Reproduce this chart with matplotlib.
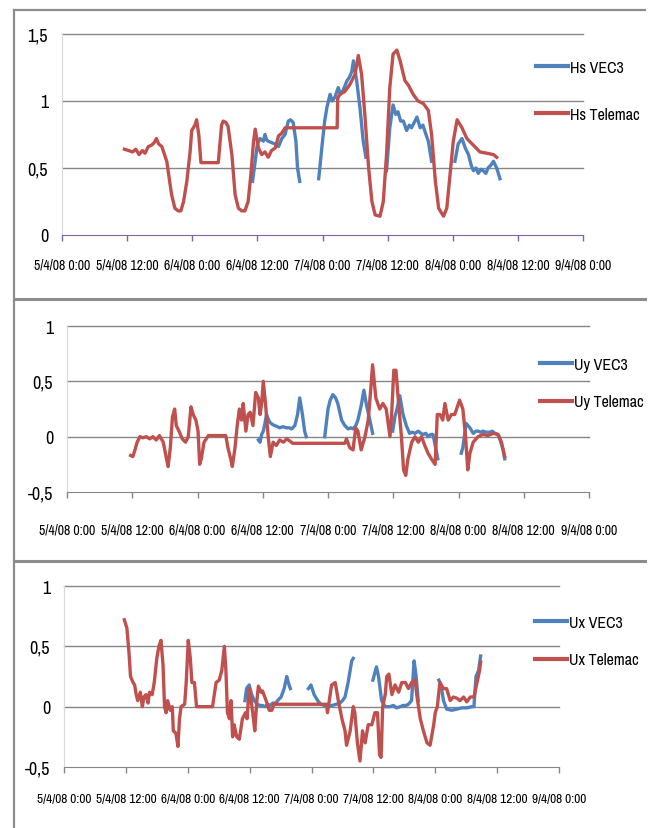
import numpy as np
import matplotlib
matplotlib.use('Agg')
import matplotlib.pyplot as plt
from matplotlib.lines import Line2D

plt.rcParams['font.family'] = ['Archivo Narrow', 'DejaVu Sans']
plt.rcParams['font.stretch'] = 'condensed'

# time axis in hours from 5/4/08 0:00
x_ticks = [0, 12, 24, 36, 48, 60, 72, 84, 96]
x_labels = ['5/4/08 0:00', '5/4/08 12:00', '6/4/08 0:00', '6/4/08 12:00',
            '7/4/08 0:00', '7/4/08 12:00', '8/4/08 0:00', '8/4/08 12:00',
            '9/4/08 0:00']

# ---- Hs ----
hs_tel_t = [11.5, 12.3, 13.0, 13.6, 14.2, 14.8, 15.3, 15.9, 16.5, 17.0,
            17.4, 17.8, 18.4, 19.3, 20.2, 20.8, 21.4, 21.9, 22.4, 23.0,
            23.6, 23.9, 24.5, 24.8, 25.2, 25.6, 28.8, 29.4, 29.7, 30.2,
            30.6, 31.3, 31.9, 32.5, 33.1, 33.7, 34.3, 34.8, 35.3, 35.6,
            36.2, 36.8, 37.4, 38.0, 38.6, 39.3, 39.9, 40.5, 41.1, 50.7,
            50.8, 51.2, 52.1, 53.0, 54.0, 54.6, 55.2, 55.8, 56.5, 57.1,
            57.7, 58.6, 59.2, 59.8, 60.4, 61.0, 61.7, 62.3, 63.2, 63.8,
            64.7, 65.6, 66.6, 67.5, 68.1, 68.8, 69.4, 70.3, 70.9, 71.5,
            72.1, 72.8, 73.7, 74.6, 75.8, 77.0, 78.3, 79.5, 80.1]
hs_tel = [0.64, 0.63, 0.62, 0.64, 0.60, 0.63, 0.61, 0.66, 0.67, 0.69,
          0.72, 0.68, 0.66, 0.55, 0.30, 0.20, 0.18, 0.18, 0.25, 0.40,
          0.62, 0.78, 0.82, 0.86, 0.75, 0.54, 0.54, 0.82, 0.85, 0.84,
          0.81, 0.60, 0.30, 0.20, 0.18, 0.18, 0.25, 0.45, 0.70, 0.79,
          0.65, 0.60, 0.62, 0.58, 0.63, 0.65, 0.74, 0.76, 0.80, 0.80,
          1.02, 1.05, 1.07, 1.12, 1.20, 1.34, 1.20, 0.90, 0.50, 0.25,
          0.15, 0.14, 0.25, 0.60, 1.10, 1.35, 1.38, 1.30, 1.15, 1.12,
          1.05, 1.00, 0.98, 0.93, 0.75, 0.40, 0.20, 0.14, 0.20, 0.45,
          0.70, 0.86, 0.80, 0.72, 0.67, 0.62, 0.61, 0.60, 0.58]

hs_vec_t1 = [35.1, 35.6, 36.0, 36.5, 37.1, 37.4, 37.7, 38.0, 38.6, 39.2,
             39.9, 40.5, 41.1, 41.7, 42.1, 42.6, 43.1, 43.4, 43.8]
hs_vec_1 = [0.40, 0.55, 0.68, 0.72, 0.70, 0.75, 0.71, 0.70, 0.69, 0.68,
            0.66, 0.72, 0.75, 0.85, 0.86, 0.84, 0.70, 0.50, 0.40]
hs_vec_t2 = [47.3, 48.0, 48.4, 48.8, 49.4, 49.8, 50.3, 50.9, 51.3, 51.8,
             52.5, 53.0, 53.4, 53.7, 54.3, 54.9, 55.5, 56.0]
hs_vec_2 = [0.42, 0.70, 0.85, 0.95, 1.05, 1.00, 1.03, 1.10, 1.05, 1.08,
            1.15, 1.18, 1.22, 1.30, 1.15, 0.95, 0.70, 0.58]
hs_vec_t3 = [59.8, 60.4, 61.0, 61.5, 61.9, 62.4, 62.9, 63.5, 64.0, 64.4,
             64.9, 65.4, 66.0, 66.5, 66.9, 67.5, 68.1]
hs_vec_3 = [0.48, 0.80, 0.97, 0.90, 0.92, 0.85, 0.85, 0.78, 0.82, 0.80,
            0.84, 0.88, 0.80, 0.82, 0.77, 0.70, 0.55]
hs_vec_t4 = [72.4, 73.0, 73.7, 74.3, 74.9, 75.4, 75.8, 76.3, 76.7, 77.2,
             77.6, 78.1, 78.5, 79.0, 79.5, 80.1, 80.7]
hs_vec_4 = [0.55, 0.68, 0.72, 0.65, 0.60, 0.52, 0.48, 0.50, 0.46, 0.49,
            0.48, 0.46, 0.50, 0.52, 0.55, 0.50, 0.42]

# ---- Uy ----
uy_tel_t = [11.7, 12.1, 12.5, 12.9, 13.4, 14.0, 14.6, 15.2, 15.8, 16.4,
            17.0, 17.7, 18.3, 18.6, 19.0, 19.4, 19.8, 20.1, 20.6, 21.2,
            21.8, 22.3, 22.8, 23.2, 23.7, 24.1, 24.4, 24.7, 25.2, 26.0,
            29.2, 29.6, 30.1, 30.4, 30.9, 31.3, 31.7, 32.1, 32.4, 32.9,
            33.3, 33.7, 34.2, 34.7, 35.2, 35.5, 35.8, 36.1, 36.5, 37.0,
            37.4, 37.9, 38.5, 39.1, 39.8, 40.4, 41.0, 41.5, 51.1, 51.4,
            52.0, 52.6, 53.1, 53.5, 54.1, 54.8, 55.4, 55.9, 56.2, 56.8,
            57.5, 58.1, 58.7, 59.4, 59.7, 60.1, 60.5, 60.9, 61.5, 61.9,
            62.3, 62.7, 63.4, 64.0, 64.6, 65.2, 65.8, 66.4, 67.0, 67.7,
            68.1, 68.6, 69.1, 69.5, 70.1, 70.7, 71.3, 72.2, 72.8, 73.3,
            73.7, 74.1, 74.7, 75.6, 76.5, 77.4, 78.4, 79.3, 79.9, 80.5]
uy_tel = [-0.17, -0.18, -0.12, -0.05, 0.00, -0.01, 0.00, -0.02, 0.00, -0.03,
          0.01, -0.05, -0.20, -0.27, -0.10, 0.18, 0.25, 0.10, 0.05, -0.02,
          -0.05, 0.00, 0.27, 0.20, 0.15, 0.05, -0.25, -0.20, -0.05, 0.01,
          0.01, -0.10, -0.20, -0.27, -0.10, 0.10, 0.25, 0.15, 0.30, 0.05,
          0.20, 0.22, 0.10, 0.40, 0.35, 0.20, 0.30, 0.50, 0.30, 0.00,
          -0.18, -0.05, -0.08, -0.03, -0.05, -0.02, -0.04, -0.06, -0.06, -0.02,
          -0.10, -0.12, 0.08, 0.05, -0.12, 0.00, 0.15, 0.45, 0.65, 0.35,
          0.25, 0.30, 0.25, 0.00, 0.20, 0.60, 0.60, 0.35, 0.00, -0.30,
          -0.35, -0.20, -0.05, 0.00, -0.05, 0.00, -0.08, -0.15, -0.20, -0.25,
          0.20, 0.20, 0.15, 0.30, 0.15, 0.20, 0.20, 0.33, 0.25, 0.00,
          -0.30, -0.15, -0.05, 0.00, 0.02, 0.01, 0.03, 0.02, -0.05, -0.18]

uy_vec_t1 = [35.2, 35.5, 35.8, 36.1, 36.4, 36.7, 37.0, 37.3, 37.8, 38.2,
             38.7, 39.1, 39.7, 40.4, 40.9, 41.3, 41.9, 42.4, 42.8, 43.3,
             43.7, 44.0]
uy_vec_1 = [-0.03, -0.05, 0.02, 0.05, 0.12, 0.20, 0.16, 0.13, 0.11, 0.10,
            0.09, 0.08, 0.09, 0.08, 0.08, 0.07, 0.10, 0.20, 0.35, 0.20,
            0.05, 0.00]
uy_vec_t2 = [47.4, 48.0, 48.4, 48.9, 49.4, 49.8, 50.5, 51.1, 51.7, 52.2,
             52.6, 53.1, 53.5, 54.1, 54.6, 55.1, 55.7, 56.2]
uy_vec_2 = [0.00, 0.25, 0.33, 0.38, 0.35, 0.30, 0.15, 0.10, 0.07, 0.08,
            0.07, 0.10, 0.15, 0.28, 0.42, 0.28, 0.15, 0.03]
uy_vec_t3 = [59.9, 60.3, 60.7, 61.2, 61.8, 62.4, 63.0, 63.5, 64.0, 64.6,
             65.1, 65.5, 66.0, 66.4, 66.9, 67.3, 67.6, 68.2]
uy_vec_3 = [0.05, 0.18, 0.25, 0.37, 0.20, 0.10, 0.03, 0.04, 0.03, 0.05,
            0.03, 0.02, 0.03, 0.00, 0.02, 0.02, -0.05, -0.20]
uy_vec_t4 = [72.5, 72.8, 73.4, 74.1, 74.7, 75.2, 75.6, 76.1, 76.5, 77.1,
             77.8, 78.2, 78.7, 79.2, 79.6, 80.2, 80.5]
uy_vec_4 = [-0.15, -0.10, 0.12, 0.08, 0.03, 0.05, 0.05, 0.04, 0.05, 0.04,
            0.04, 0.05, 0.03, 0.02, -0.02, -0.12, -0.20]

# ---- Ux ----
ux_tel_t = [11.7, 12.2, 12.6, 12.9, 13.4, 13.7, 14.0, 14.3, 14.8, 15.2,
            15.5, 15.9, 16.3, 16.6, 17.1, 17.5, 18.0, 18.4, 18.8, 19.2,
            19.5, 19.8, 20.1, 20.6, 21.0, 21.2, 21.7, 22.1, 22.4, 22.7,
            23.4, 23.7, 24.1, 24.5, 24.8, 25.3, 25.7, 28.8, 29.5, 30.1,
            30.6, 31.1, 31.4, 31.7, 32.1, 32.4, 32.7, 33.0, 33.5, 34.0,
            34.6, 35.2, 35.5, 35.9, 36.3, 36.6, 37.0, 37.4, 37.7, 38.2,
            38.5, 39.2, 39.8, 40.3, 40.8, 41.1, 50.9, 51.1, 51.9, 52.6,
            53.2, 53.9, 54.5, 54.8, 55.5, 56.1, 56.4, 56.9, 57.4, 57.9,
            58.4, 59.0, 59.7, 60.3, 60.8, 61.2, 61.5, 61.8, 62.3, 62.6,
            63.0, 63.6, 64.2, 64.9, 65.5, 66.2, 66.8, 67.4, 68.1, 68.4,
            69.1, 69.7, 70.4, 71.0, 71.7, 72.0, 72.4, 72.9, 73.6, 74.2,
            74.9, 75.5, 76.2, 76.8, 77.5, 78.1, 78.8, 79.5, 80.1, 80.6,
            80.8]
ux_tel = [0.72, 0.65, 0.45, 0.25, 0.20, 0.18, 0.10, 0.05, 0.12, 0.00,
          0.08, 0.10, 0.03, 0.12, 0.10, 0.20, 0.40, 0.50, 0.55, 0.35,
          0.00, -0.05, 0.05, -0.03, 0.00, -0.20, -0.22, -0.33, -0.10, 0.00,
          0.02, 0.20, 0.55, 0.40, 0.20, 0.20, 0.00, 0.00, 0.20, 0.22,
          0.30, 0.50, 0.30, -0.05, -0.10, 0.05, -0.25, -0.15, -0.25, -0.27,
          -0.10, -0.05, -0.10, 0.15, 0.05, -0.05, -0.20, 0.05, 0.17, 0.12,
          0.13, 0.05, -0.03, -0.03, 0.03, 0.02, 0.02, -0.05, 0.18, 0.20,
          0.05, -0.10, -0.20, -0.32, -0.20, 0.00, -0.05, -0.30, -0.45, -0.20,
          -0.30, -0.15, -0.15, -0.05, -0.05, -0.40, -0.42, 0.00, 0.10, 0.25,
          0.27, 0.10, 0.18, 0.12, 0.20, 0.20, 0.15, 0.20, 0.22, 0.10,
          -0.10, -0.20, -0.30, -0.32, -0.15, -0.05, 0.00, 0.20, 0.15, 0.15,
          0.05, 0.08, 0.07, 0.05, 0.08, 0.04, 0.08, 0.08, 0.20, 0.30,
          0.37]

ux_vec_t1 = [35.1, 35.4, 35.9, 36.4, 36.9, 37.5, 38.0, 38.5, 39.0, 39.5,
             40.0, 40.5, 41.0, 41.4, 42.1, 42.7, 43.2, 43.5, 43.9]
ux_vec_1 = [0.05, 0.15, 0.18, 0.10, 0.05, 0.02, 0.01, 0.01, 0.00, 0.02,
            0.01, 0.03, 0.02, 0.05, 0.08, 0.15, 0.25, 0.20, 0.15]
ux_vec_t2 = [47.4, 47.9, 48.5, 49.2, 49.8, 50.5, 51.2, 52.0, 52.8, 53.5,
             54.0, 54.5, 55.1, 55.8, 56.1]
ux_vec_2 = [0.15, 0.18, 0.10, 0.05, 0.02, 0.01, 0.01, 0.01, 0.02, 0.03,
            0.05, 0.08, 0.20, 0.38, 0.40]
ux_vec_t3 = [59.9, 60.6, 61.0, 61.6, 62.3, 63.2, 63.9, 64.5, 65.2, 65.8,
             66.3, 66.8, 67.4, 67.9, 68.3, 68.7]
ux_vec_3 = [0.22, 0.33, 0.25, 0.05, 0.00, 0.00, 0.01, -0.01, 0.00, 0.01,
            0.01, 0.02, 0.05, 0.38, 0.25, 0.05]
ux_vec_t4 = [72.7, 73.1, 73.6, 74.2, 75.2, 76.2, 77.2, 78.1, 79.1, 79.5,
             79.9, 80.4, 80.8]
ux_vec_4 = [0.22, 0.18, 0.05, -0.02, -0.03, -0.02, -0.01, -0.01, 0.00, 0.00,
            0.25, 0.30, 0.42]

BLUE = '#4F81BD'
RED = '#C0504D'
GRID = '#868686'
W, H = 653, 829

fig = plt.figure(figsize=(W / 100, H / 100), dpi=100)


def px_rect(left, top, right, bottom):
    return [left / W, 1 - bottom / H, (right - left) / W, (bottom - top) / H]


def panel(rect, ylim, yticks, ylabels, vec_segs, tel_t, tel_v, names,
          leg_xy, spacing, axis_color, xpad, xsize):
    ax = fig.add_axes(rect)
    ax.set_xlim(0, 96)
    ax.set_ylim(*ylim)
    for yv in yticks[1:]:
        ax.axhline(yv, color=GRID, lw=1, clip_on=False, zorder=0)
    ax.set_yticks(yticks)
    ax.set_yticklabels(ylabels, fontsize=13)
    ax.set_xticks(x_ticks)
    ax.set_xticklabels(x_labels, fontsize=xsize)
    ax.tick_params(axis='y', length=0, pad=10)
    ax.tick_params(axis='x', direction='out', length=4, width=1,
                   color=axis_color, pad=xpad)
    for s in ['top', 'right']:
        ax.spines[s].set_visible(False)
    ax.spines['left'].set_color('#D9D9D9')
    ax.spines['bottom'].set_color(axis_color)

    for t, v in vec_segs:
        ax.plot(t, v, color=BLUE, lw=2.4, solid_joinstyle='round')
    ax.plot(tel_t, tel_v, color=RED, lw=2.4, solid_joinstyle='round')

    handles = [Line2D([], [], color=BLUE, lw=3), Line2D([], [], color=RED, lw=3)]
    ax.legend(handles, names, loc='upper left', bbox_to_anchor=leg_xy,
              bbox_transform=fig.transFigure, frameon=False, borderpad=0,
              borderaxespad=0, handlelength=2.0, handletextpad=0.15,
              labelspacing=spacing, fontsize=11.5)
    return ax


panel(px_rect(62, 35, 583, 236), (0, 1.5), [0, 0.5, 1, 1.5],
      ['0', '0,5', '1', '1,5'],
      [(hs_vec_t1, hs_vec_1), (hs_vec_t2, hs_vec_2),
       (hs_vec_t3, hs_vec_3), (hs_vec_t4, hs_vec_4)],
      hs_tel_t, hs_tel, ['Hs VEC3', 'Hs Telemac'],
      (536 / W, 1 - 61 / H), 2.0, '#8064A2', 12, 10)

panel(px_rect(67, 327, 589, 493), (-0.5, 1), [-0.5, 0, 0.5, 1],
      ['-0,5', '0', '0,5', '1'],
      [(uy_vec_t1, uy_vec_1), (uy_vec_t2, uy_vec_2),
       (uy_vec_t3, uy_vec_3), (uy_vec_t4, uy_vec_4)],
      uy_tel_t, uy_tel, ['Uy VEC3', 'Uy Telemac'],
      (540 / W, 1 - 358 / H), 1.4, GRID, 18, 10)

panel(px_rect(64, 587, 559, 768), (-0.5, 1), [-0.5, 0, 0.5, 1],
      ['-0,5', '0', '0,5', '1'],
      [(ux_vec_t1, ux_vec_1), (ux_vec_t2, ux_vec_2),
       (ux_vec_t3, ux_vec_3), (ux_vec_t4, ux_vec_4)],
      ux_tel_t, ux_tel, ['Ux VEC3', 'Ux Telemac'],
      (535 / W, 1 - 616 / H), 1.4, GRID, 15, 9.6)

# chart borders (Excel chart areas, right side cut off)
border = '#8C8C8C'
for y, lw in [(11, 1.6), (300, 2.2), (562, 2.2)]:
    fig.add_artist(Line2D([14 / W, 645 / W], [1 - y / H, 1 - y / H],
                          transform=fig.transFigure, color=border, lw=lw))
fig.add_artist(Line2D([14 / W, 14 / W], [1 - 11 / H, 0],
                      transform=fig.transFigure, color=border, lw=1.6))

fig.savefig('out.png', dpi=100)
